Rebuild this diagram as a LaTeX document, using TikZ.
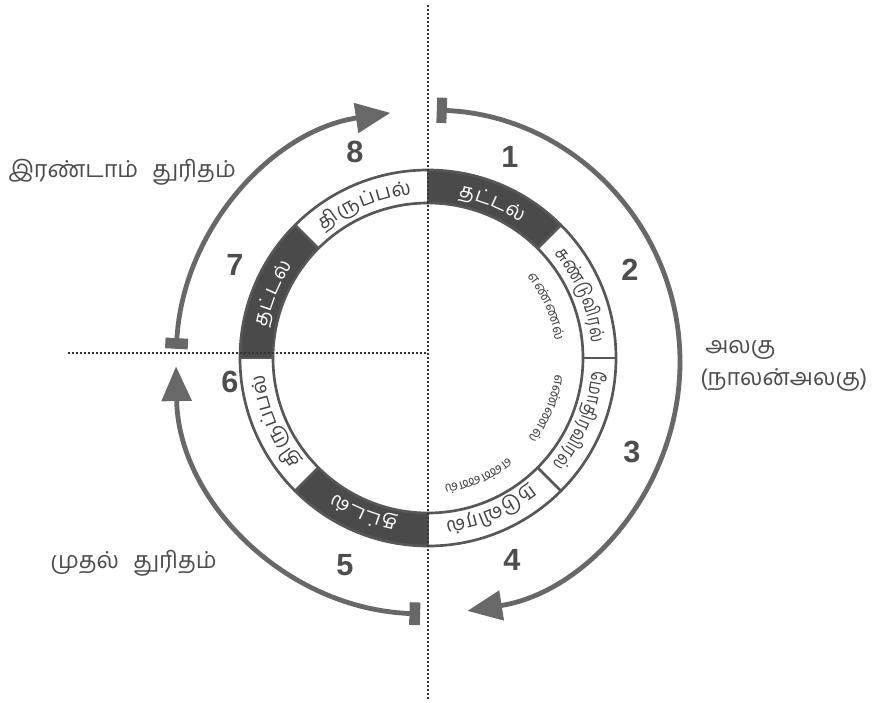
\documentclass[tikz,border=0pt]{standalone}
\usepackage{fontspec}
\setmainfont{Liberation Sans}
\newfontfamily\tamil[Script=Tamil]{Hind Madurai}
\newfontfamily\tamilc[Script=Tamil, FakeStretch=0.8]{Hind Madurai}
\usetikzlibrary{arrows.meta}
\definecolor{ringdark}{HTML}{4A4A4A}
\definecolor{ringline}{HTML}{575757}
\definecolor{arrowgray}{HTML}{686868}
\definecolor{labelgray}{HTML}{4D4D4D}
\definecolor{dotgray}{HTML}{333333}
\definecolor{ringtext}{HTML}{444444}

\newdimen\arcW \newdimen\arcTmp \newdimen\arcCum \newdimen\arcGap
\arcGap=0.4pt
% measure outside the picture: #1 id, #2 radius, #3 centre angle, #4 font, #5 clusters
\newcommand\prepArc[5]{%
  \global\arcW=0pt
  \foreach \cl in {#5}{\settowidth\arcTmp{#4\cl}\global\advance\arcW by \arcTmp\global\advance\arcW by \arcGap}%
  \global\advance\arcW by -\arcGap
  \global\arcCum=0pt
  \gdef\arcList{}%
  \foreach \cl in {#5}{%
    \settowidth\arcTmp{#4\cl}%
    \pgfmathsetmacro\ang{#3+(0.5*\arcW-\arcCum-0.5*\arcTmp)/(#2*0.75)*57.29578}%
    \ifx\arcList\empty\xdef\arcList{\ang/\cl}\else\xdef\arcList{\arcList,\ang/\cl}\fi
    \global\advance\arcCum by \arcTmp
    \global\advance\arcCum by \arcGap
  }%
  \expandafter\global\expandafter\let\csname arcL#1\endcsname\arcList
}
% place inside the picture: #1 id, #2 radius, #3 font, #4 colour
\newcommand\placeArc[4]{%
  \expandafter\let\expandafter\tmpL\csname arcL#1\endcsname
  \foreach \ang/\cl [count=\i] in \tmpL {%
    \pgfmathsetmacro\rot{\ang-90}%
    \node[name=#1-\i, rotate=\rot, anchor=base, inner sep=0pt, font=#3, text=#4] at (\ang:#2) {\cl};
  }%
}

\tikzset{
  num/.style={font=\fontsize{23}{23}\selectfont\bfseries, text=labelgray, inner sep=0pt},
  side/.style={font=\tamil\fontsize{17.5}{20}\selectfont, text=labelgray, inner sep=0pt},
  arr/.style={draw=arrowgray, line width=3.6pt},
  dots/.style={draw=dotgray, line width=1.3pt, dash pattern=on 1.3pt off 1.7pt},
  ringedge/.style={draw=ringline, line width=2pt}
}

\newcommand\ringfont{\tamil\fontsize{15}{15}\selectfont}
\newcommand\ringfontc{\tamilc\fontsize{14.5}{14.5}\selectfont}
\newcommand\innerfont{\tamil\fontsize{10.5}{10.5}\selectfont}

\begin{document}%
\prepArc{s1}{164}{67.5}{\ringfont}{த,ட்,ட,ல்}%
\prepArc{s2}{164}{22.5}{\ringfontc}{சு,ண்,டு,வி,ர,ல்}%
\prepArc{s3}{164}{-22.5}{\ringfontc}{மோ,தி,ர,வி,ர,ல்}%
\prepArc{s4}{164}{-67.5}{\ringfont}{ந,டு,வி,ர,ல்}%
\prepArc{s5}{164}{-112.5}{\ringfont}{த,ட்,ட,ல்}%
\prepArc{s6}{164}{-157.5}{\ringfont}{தி,ரு,ப்,ப,ல்}%
\prepArc{s7}{164}{157.5}{\ringfont}{த,ட்,ட,ல்}%
\prepArc{s8}{164}{112.5}{\ringfont}{தி,ரு,ப்,ப,ல்}%
\prepArc{e2}{128}{23.5}{\innerfont}{எ,ண்,ண,ல்}%
\prepArc{e3}{128}{-23}{\innerfont}{எ,ண்,ண,ல்}%
\prepArc{e4}{128}{-67}{\innerfont}{எ,ண்,ண,ல்}%
\begin{tikzpicture}[x=0.75pt, y=0.75pt]
\useasboundingbox (-428,-345) rectangle (450,358);
\fill[white] (-428,-345) rectangle (450,358);

% ring
\foreach \a/\b in {90/45, -90/-135, 180/135}
  \fill[ringdark] (\a:188) arc[start angle=\a, end angle=\b, radius=188]
     -- (\b:155) arc[start angle=\b, end angle=\a, radius=155] -- cycle;
\draw[ringedge] (0,0) circle[radius=188];
\draw[ringedge] (0,0) circle[radius=155];
\foreach \a in {90,45,0,-45,-90,-135,180,135}
  \draw[ringedge] (\a:155) -- (\a:188);

% ring texts
\placeArc{s1}{164}{\ringfont}{white}
\placeArc{s2}{164}{\ringfontc}{ringtext}
\placeArc{s3}{164}{\ringfontc}{ringtext}
\placeArc{s4}{164}{\ringfont}{ringtext}
\placeArc{s5}{164}{\ringfont}{white}
\placeArc{s6}{164}{\ringfont}{ringtext}
\placeArc{s7}{164}{\ringfont}{white}
\placeArc{s8}{164}{\ringfont}{ringtext}

% inner texts
\placeArc{e2}{128}{\innerfont}{ringtext}
\placeArc{e3}{128}{\innerfont}{ringtext}
\placeArc{e4}{128}{\innerfont}{ringtext}

% dotted axes
\coordinate (vtop) at (0,353);
\coordinate (vbot) at (0,-342);
\coordinate (hleft) at (-360,5);
\coordinate (hmid) at (0,5);
\draw[dots] (vtop) -- (vbot);
\draw[dots] (hleft) -- (hmid);

% cycle arrows
\begin{scope}[shift={(0,-4)}]
\draw[arr, {Rectangle[length=7.5pt,width=19pt]}-{Triangle[length=26pt,width=22pt]}]
  (88:252) arc[start angle=88, end angle=-81, radius=252];
\draw[arr, {Rectangle[length=8pt,width=17pt]}-{Triangle[length=26pt,width=22pt]}]
  (-91.8:252) arc[start angle=-91.8, end angle=-179, radius=252];
\draw[arr, {Rectangle[length=8pt,width=17pt]}-{Triangle[length=26pt,width=22pt]}]
  (177:252) arc[start angle=177, end angle=98.6, radius=252];
\end{scope}

% numbers
\node[num] (n1) at (82,201) {1};
\node[num] (n2) at (202,88) {2};
\node[num] (n3) at (204,-94) {3};
\node[num] (n4) at (84,-202) {4};
\node[num] (n5) at (-83,-207) {5};
\node[num] (n6) at (-198,-24) {6};
\node[num] (n7) at (-193,93) {7};
\node[num] (n8) at (-73,206) {8};

% side labels
\node[side, anchor=west] (l1) at (-420,186) {இரண்டாம்\hspace{0.6em}துரிதம்};
\node[side, anchor=west] (l2) at (-378,-205) {முதல்\hspace{0.6em}துரிதம்};
\node[side, anchor=west] (l3) at (277,8) {அலகு};
\node[side, anchor=west] (l4) at (272,-22) {(நாலன்அலகு)};
\end{tikzpicture}%
\end{document}
